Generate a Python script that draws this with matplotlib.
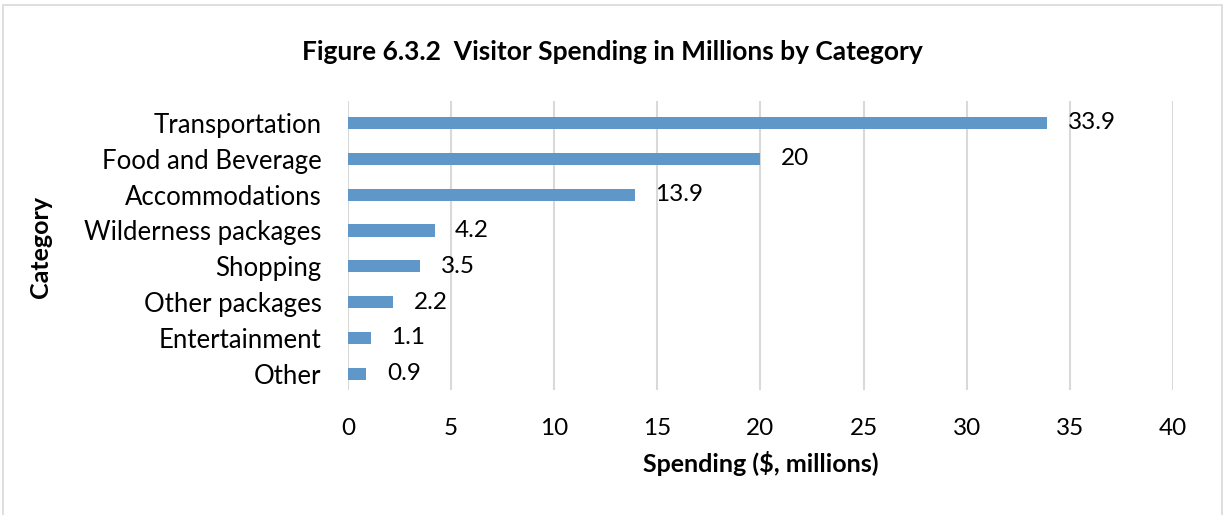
import matplotlib.pyplot as plt
from matplotlib.patches import Rectangle

# Visitor spending data, $ millions
categories = ["Transportation", "Food and Beverage", "Accommodations",
              "Wilderness packages", "Shopping", "Other packages",
              "Entertainment", "Other"]
spending = [33.9, 20, 13.9, 4.2, 3.5, 2.2, 1.1, 0.9]
labels = ["33.9", "20", "13.9", "4.2", "3.5", "2.2", "1.1", "0.9"]
xticks = [0, 5, 10, 15, 20, 25, 30, 35, 40]

plt.rcParams['font.family'] = ['Lato', 'DejaVu Sans']

fig = plt.figure(figsize=(12.25, 5.15), dpi=100)
ax = fig.add_axes([0.284, 0.243, 0.6736, 0.56])

# outer chart frame
fig.patches.append(Rectangle((3/1225, -0.01), 1219/1225, 1 - 5/515 + 0.01,
                             transform=fig.transFigure, fill=False,
                             edgecolor="#d9d9d9", linewidth=1.2))

ypos = list(range(len(categories)))[::-1]
ax.barh(ypos, spending, height=0.34, color="#5f97c9", zorder=3)
for y, v, t in zip(ypos, spending, labels):
    ax.text(v + 1, y, t, va="center", ha="left", fontsize=17.5, color="black")

ax.set_xlim(0, 40)
ax.set_ylim(-0.45, 7.6)
ax.set_xticks(xticks)
ax.set_xticklabels([str(x) for x in xticks], fontsize=17.5)
ax.set_yticks(ypos)
ax.set_yticklabels(categories, fontsize=18.5)
ax.tick_params(length=0, pad=19)
ax.tick_params(axis="x", pad=20)
ax.xaxis.grid(True, color="#d9d9d9", linewidth=1.5, zorder=0)
for s in ax.spines.values():
    s.set_visible(False)

ax.set_xlabel("Spending ($, millions)", fontsize=18, fontweight="bold", labelpad=9)
fig.text(0.033, 0.52, "Category", rotation=90, va="center", ha="center",
         fontsize=18, fontweight="bold")
fig.text(0.5, 0.9, "Figure 6.3.2  Visitor Spending in Millions by Category",
         ha="center", va="center", fontsize=19, fontweight="bold")

fig.savefig("out.png", dpi=100)
